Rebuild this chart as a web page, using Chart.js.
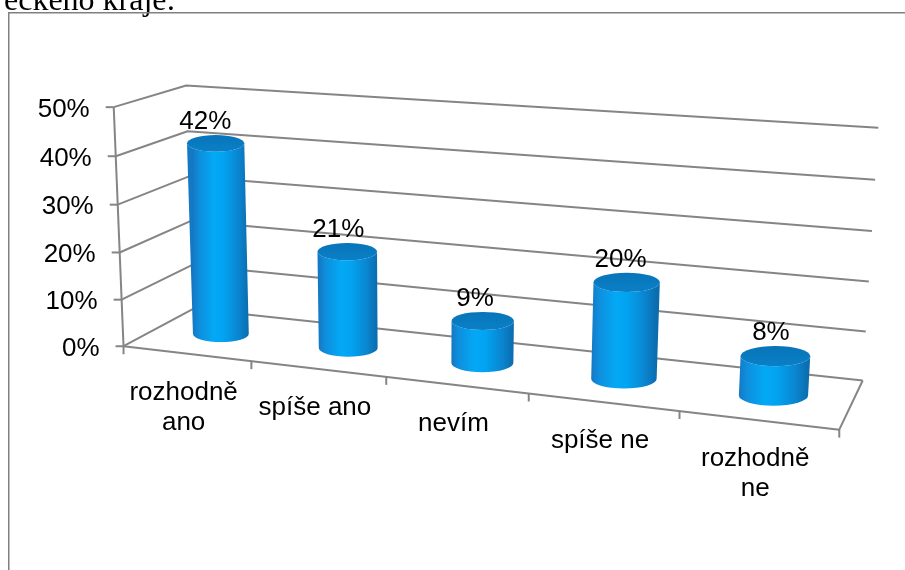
<!DOCTYPE html>
<html>
<head>
<meta charset="utf-8">
<script src="https://cdn.jsdelivr.net/npm/chart.js@4.4.1/dist/chart.umd.min.js"></script>
<style>
  html, body { margin: 0; padding: 0; background: #fff; }
  #wrap { position: relative; width: 905px; height: 570px; overflow: hidden; }
</style>
</head>
<body>
<div id="wrap"><canvas id="chart" width="905" height="570"></canvas></div>
<script>
// answers and their shares
const categories = [['rozhodně', 'ano'], 'spíše ano', 'nevím', 'spíše ne', ['rozhodně', 'ne']];
const shares = [0.42, 0.21, 0.09, 0.20, 0.08];
const yTicks = [0, 0.1, 0.2, 0.3, 0.4, 0.5];
const yTickLabels = ['0%', '10%', '20%', '30%', '40%', '50%'];
const valueLabels = ['42%', '21%', '9%', '20%', '8%'];

// where the corners of the 3D plot box land on screen: [u, v, w, x, y]
// u = along categories, v = along values, w = depth (0 front, 1 back wall)
const boxRefs = [
    [0, 0, 0, 127, 344], [0, 0.2, 0, 122, 298], [0, 0.4, 0, 118, 252],
    [0, 0.6, 0, 116, 204], [0, 0.8, 0, 115, 156], [0, 1, 0, 113, 108],
    [0, 1, 1, 188, 85], [0, 0.8, 1, 189, 131], [0, 0.6, 1, 190, 177],
    [0, 0.4, 1, 190, 222], [0, 0.2, 1, 190, 267], [0, 0, 1, 191, 309],
    [1, 1, 1, 878, 128], [1, 0.8, 1, 875, 180], [1, 0.6, 1, 872, 231],
    [1, 0.4, 1, 869, 281], [1, 0.2, 1, 866, 330], [1, 0, 1, 863, 379],
    [0.2, 0, 0, 253, 361], [0.4, 0, 0, 387, 378], [0.6, 0, 0, 528, 395],
    [0.8, 0, 0, 679, 413], [1, 0, 0, 839, 430]
];

const FONT = '26px "Liberation Sans", Arial, sans-serif';
const LINE = '#858585';

// least squares perspective (3x4 matrix) from the reference points
function fitProjection(refs) {
    const rows = [], rhs = [];
    refs.forEach(([u, v, w, x, y]) => {
        rows.push([u, v, w, 1, 0, 0, 0, 0, -x * u, -x * v, -x * w]); rhs.push(x);
        rows.push([0, 0, 0, 0, u, v, w, 1, -y * u, -y * v, -y * w]); rhs.push(y);
    });
    const n = 11;
    const M = [];
    for (let i = 0; i < n; i++) {
        M.push(new Array(n + 1).fill(0));
        for (let k = 0; k < rows.length; k++) {
            for (let j = 0; j < n; j++) M[i][j] += rows[k][i] * rows[k][j];
            M[i][n] += rows[k][i] * rhs[k];
        }
    }
    for (let c = 0; c < n; c++) {
        let p = c;
        for (let r = c + 1; r < n; r++) if (Math.abs(M[r][c]) > Math.abs(M[p][c])) p = r;
        [M[c], M[p]] = [M[p], M[c]];
        for (let r = 0; r < n; r++) {
            if (r === c) continue;
            const f = M[r][c] / M[c][c];
            for (let j = c; j <= n; j++) M[r][j] -= f * M[c][j];
        }
    }
    const p = M.map((row, i) => row[n] / row[i]);
    return (u, v, w) => {
        const d = p[8] * u + p[9] * v + p[10] * w + 1;
        return {
            x: (p[0] * u + p[1] * v + p[2] * w + p[3]) / d,
            y: (p[4] * u + p[5] * v + p[6] * w + p[7]) / d
        };
    };
}
const P = fitProjection(boxRefs);

function line(ctx, pts) {
    ctx.beginPath();
    ctx.moveTo(pts[0].x, pts[0].y);
    for (let i = 1; i < pts.length; i++) ctx.lineTo(pts[i].x, pts[i].y);
    ctx.stroke();
}

const scene3d = {
    id: 'scene3d',
    beforeDraw(chart) {
        const ctx = chart.ctx;
        ctx.save();
        ctx.fillStyle = '#fff';
        ctx.fillRect(0, 0, chart.width, chart.height);
        // page text cut by the top edge
        ctx.fillStyle = '#000';
        ctx.font = '32px "Liberation Serif", "Times New Roman", serif';
        ctx.textBaseline = 'alphabetic';
        ctx.fillText('eckého kraje:', 4, 9.5);
        // frame round the chart object
        ctx.strokeStyle = '#808080';
        ctx.lineWidth = 1.5;
        ctx.strokeRect(8.75, 12.75, 1000, 1000);
        ctx.restore();
    },
    afterDatasetsDraw(chart) {
        const ctx = chart.ctx;
        const area = chart.chartArea;
        const xs = chart.scales.x, ys = chart.scales.y;
        const W = area.right - area.left, H = area.bottom - area.top;
        const toU = px => (px - area.left) / W;
        const toV = py => (area.bottom - py) / H;

        ctx.save();
        ctx.strokeStyle = LINE;
        ctx.lineWidth = 2;
        ctx.lineJoin = 'round';

        // side wall + back wall gridlines
        yTicks.forEach(t => {
            const v = toV(ys.getPixelForValue(t));
            line(ctx, [P(0, v, 0), P(0, v, 1), P(1, v, 1)]);
            const a = P(0, v, 0);
            line(ctx, [{ x: a.x - 8, y: a.y }, a]);
        });
        // value axis
        line(ctx, [P(0, 0, 0), P(0, 1, 0)]);
        // floor edges
        line(ctx, [P(1, 0, 1), P(1, 0, 0), P(0, 0, 0)]);
        // category ticks
        for (let i = 0; i <= categories.length; i++) {
            const u = toU(xs.getPixelForValue(i - 0.5));
            const a = P(u, 0, 0);
            line(ctx, [a, { x: a.x, y: a.y + 8 }]);
        }

        // cylinders
        const wc = 0.5;
        const meta = chart.getDatasetMeta(0);
        meta.data.forEach((bar, i) => {
            const uc = toU(bar.x);
            const ru = bar.width / 2 / W;
            const v = toV(bar.y) * 0.975;
            const B = P(uc, 0, wc), T = P(uc, v, wc);
            const rxB = (P(uc + ru, 0, wc).x - P(uc - ru, 0, wc).x) / 2;
            const rxT = (P(uc + ru, v, wc).x - P(uc - ru, v, wc).x) / 2;
            const ryB = rxB * 0.3, ryT = rxT * 0.29;

            const g = ctx.createLinearGradient(B.x - rxB, 0, B.x + rxB, 0);
            g.addColorStop(0, '#1479c4');
            g.addColorStop(0.12, '#0e8fdd');
            g.addColorStop(0.38, '#03a9f6');
            g.addColorStop(0.55, '#02a3f0');
            g.addColorStop(0.82, '#0a85d0');
            g.addColorStop(1, '#0b6cae');
            ctx.beginPath();
            ctx.moveTo(T.x - rxT, T.y);
            ctx.lineTo(B.x - rxB, B.y);
            ctx.ellipse(B.x, B.y, rxB, ryB, 0, Math.PI, 0, true);
            ctx.lineTo(T.x + rxT, T.y);
            ctx.ellipse(T.x, T.y, rxT, ryT, 0, 0, Math.PI, false);
            ctx.closePath();
            ctx.fillStyle = g;
            ctx.fill();

            const gt = ctx.createLinearGradient(0, T.y - ryT, 0, T.y + ryT);
            gt.addColorStop(0, '#0874b9');
            gt.addColorStop(1, '#0a80c7');
            ctx.beginPath();
            ctx.ellipse(T.x, T.y, rxT, ryT, 0, 0, Math.PI * 2);
            ctx.fillStyle = gt;
            ctx.fill();

            // value label
            const L = P(uc, v, wc - 0.15);
            ctx.fillStyle = '#000';
            ctx.font = FONT;
            ctx.textAlign = 'center';
            ctx.textBaseline = 'alphabetic';
            ctx.fillText(valueLabels[i], L.x, T.y - ryT - 6);

            // category label
            const C = P(uc, 0, 0);
            const lines = [].concat(categories[i]);
            lines.forEach((s, k) => ctx.fillText(s, C.x - 3, C.y + 46 + k * 30));
        });

        // value tick labels
        ctx.fillStyle = '#000';
        ctx.font = FONT;
        ctx.textAlign = 'right';
        ctx.textBaseline = 'alphabetic';
        yTicks.forEach((t, k) => {
            const a = P(0, toV(ys.getPixelForValue(t)), 0);
            ctx.fillText(yTickLabels[k], a.x - 24, a.y + 9.5);
        });
        ctx.restore();
    }
};

new Chart(document.getElementById('chart'), {
    type: 'bar',
    data: {
        labels: categories,
        datasets: [{
            data: shares,
            backgroundColor: 'rgba(0,0,0,0)',
            categoryPercentage: 1,
            barPercentage: 0.45
        }]
    },
    options: {
        responsive: false,
        animation: false,
        layout: { padding: { left: 120, right: 40, top: 100, bottom: 200 } },
        plugins: { legend: { display: false }, tooltip: { enabled: false } },
        scales: {
            x: { display: false },
            y: { display: false, min: 0, max: 0.5 }
        }
    },
    plugins: [scene3d]
});
</script>
</body>
</html>
